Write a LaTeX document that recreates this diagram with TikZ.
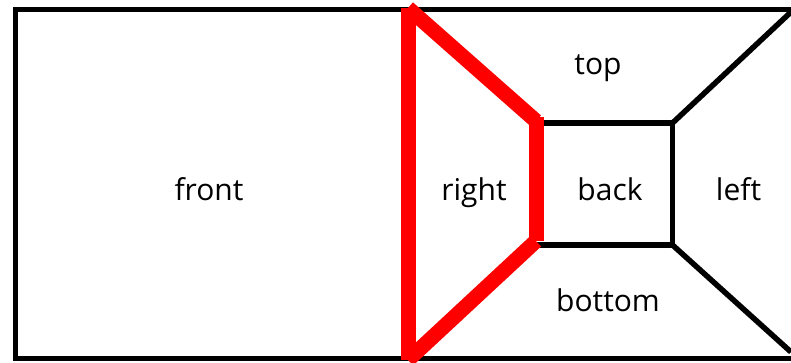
\documentclass[tikz,border=0pt]{standalone}
\usepackage{fontspec}
\setmainfont{Open Sans}
\begin{document}
\begin{tikzpicture}[x=1pt,y=-1pt,
  edge/.style={line width=5.5pt, black},
  redge/.style={line width=15pt, red, line cap=butt},
  lbl/.style={anchor=base, font=\fontsize{30}{36}\selectfont, inner sep=0pt}]
\useasboundingbox (0,0) rectangle (791,362);

% outer frame (open on the right)
\coordinate (tr) at (791,9.5);
\coordinate (tl) at (15.5,9.5);
\coordinate (bl) at (15.5,358.5);
\coordinate (br) at (791,358.5);
\draw[edge, line join=miter] (tr) -- (tl) -- (bl) -- (br);

% back face and its perspective edges
\coordinate (b1) at (536,123);
\coordinate (b2) at (672.5,123);
\coordinate (b3) at (672.5,245);
\coordinate (b4) at (536,245);
\draw[edge, line join=miter] (b1) -- (b2) -- (b3) -- (b4);
\coordinate (ct) at (791,12);
\coordinate (cb) at (791,352);
\draw[edge] (b2) -- (ct);
\draw[edge] (b3) -- (cb);

% highlighted right face
\coordinate (r1) at (408,8);
\coordinate (r2) at (536,121);
\coordinate (r2a) at (536,117);
\coordinate (r3) at (536,241);
\coordinate (r4) at (408,360);
\draw[redge] (r1) -- (r4);
\draw[redge] (r1) -- (r2);
\draw[redge] (r2a) -- (r3);
\draw[redge] (r3) -- (r4);

% face labels
\node[lbl] (front) at (209,200) {front};
\node[lbl] (top) at (598,74) {top};
\node[lbl] (right) at (474,200) {right};
\node[lbl] (back) at (610,200) {back};
\node[lbl] (left) at (738.5,200) {left};
\node[lbl] (bottom) at (608,311) {bottom};
\end{tikzpicture}
\end{document}
